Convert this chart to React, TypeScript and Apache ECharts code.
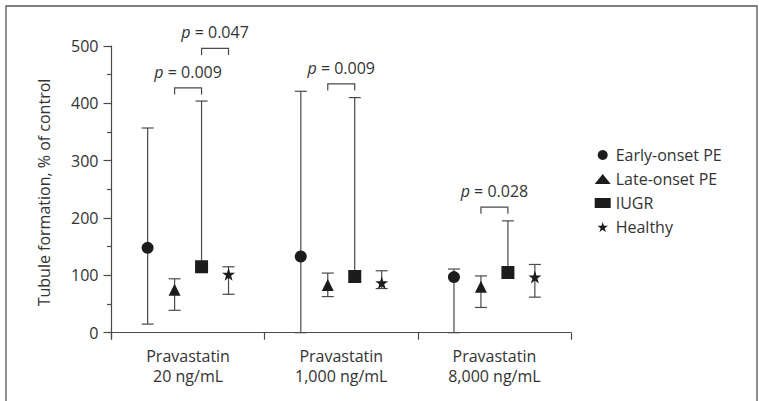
import React, { useEffect, useRef } from "react";
import * as echarts from "echarts";

const categories = ["Pravastatin\n20 ng/mL", "Pravastatin\n1,000 ng/mL", "Pravastatin\n8,000 ng/mL"];
const groupNames = ["Early-onset PE", "Late-onset PE", "IUGR", "Healthy"];

const earlyValues = [148, 133, 97];
const earlyLow = [15, 0, 0];
const earlyHigh = [357, 421, 111];

const lateValues = [75, 83, 80];
const lateLow = [39, 63, 44];
const lateHigh = [94, 104, 99];

const iugrValues = [115, 98, 105];
const iugrLow: (number | null)[] = [null, null, null];
const iugrHigh = [404, 410, 195];

const healthyValues = [102, 87, 97];
const healthyLow = [67, 77, 62];
const healthyHigh = [115, 108, 119];

const majorTicks = [0, 100, 200, 300, 400, 500];
const minorTicks = [50, 150, 250, 350, 450];

// brackets: [categoryIndex, fromGroup, toGroup, yValue]
const brackets = [
  [0, 1, 2, 427],
  [0, 2, 3, 496],
  [1, 1, 2, 434],
  [2, 1, 2, 219],
];
const bracketLabels = ["0.009", "0.047", "0.009", "0.028"];

const STAR = "path://M50,0 L61.2,34.5 L97.6,34.5 L68.2,55.9 L79.4,90.5 L50,69.1 L20.6,90.5 L31.8,55.9 L2.4,34.5 L38.8,34.5 Z";
const FONT = "Open Sans";
const FS = 16;
const TEXT = "#333333";
const LINE = "#4a4a4a";
const MARK = "#1c1c1c";

// offset of each group's marker within a category band (fraction of band width)
const groupFrac = [-0.264, -0.088, 0.088, 0.264];
const BAND = 460 / 3;

export default function App() {
  const ref = useRef<HTMLDivElement>(null);
  useEffect(() => {
    document.body.style.margin = "0";
    const chart = echarts.init(ref.current!, null, { renderer: "svg" });

    const groups = [
      { values: earlyValues, low: earlyLow, high: earlyHigh, symbol: "circle", size: 12 },
      { values: lateValues, low: lateLow, high: lateHigh, symbol: "triangle", size: 12 },
      { values: iugrValues, low: iugrLow, high: iugrHigh, symbol: "rect", size: 13 },
      { values: healthyValues, low: healthyLow, high: healthyHigh, symbol: STAR, size: 13 },
    ];

    const errSeries = groups.map((g, gi) => ({
      type: "custom",
      name: "err" + gi,
      z: 2,
      silent: true,
      data: g.values.map((v, i) => [i, g.low[i] == null ? NaN : g.low[i], g.high[i], v]),
      encode: { x: 0, y: [2, 3] },
      renderItem: (params: any, api: any) => {
        const cat = api.value(0);
        const lo = api.value(1);
        const hi = api.value(2);
        const val = api.value(3);
        const bw = api.size([1, 0])[0];
        const top = api.coord([cat, hi]);
        const bot = api.coord([cat, isNaN(lo) ? val : lo]);
        const x = top[0] + groupFrac[gi] * bw;
        const st = { stroke: LINE, lineWidth: 1.2 };
        const children: any[] = [
          { type: "line", shape: { x1: x, y1: top[1], x2: x, y2: bot[1] }, style: st },
          { type: "line", shape: { x1: x - 6, y1: top[1], x2: x + 6, y2: top[1] }, style: st },
        ];
        if (!isNaN(lo)) {
          children.push({ type: "line", shape: { x1: x - 6, y1: bot[1], x2: x + 6, y2: bot[1] }, style: st });
        }
        return { type: "group", children };
      },
    }));

    const markSeries = groups.map((g, gi) => ({
      type: "scatter",
      name: groupNames[gi],
      z: 5,
      symbol: g.symbol,
      symbolSize: g.size,
      symbolOffset: [groupFrac[gi] * BAND, 0],
      itemStyle: { color: MARK, opacity: 1 },
      data: g.values.map((v, i) => [i, v]),
    }));

    const bracketSeries = {
      type: "custom",
      name: "brackets",
      z: 3,
      silent: true,
      data: brackets.map((b, i) => [...b, i]),
      encode: { x: 0, y: 3 },
      renderItem: (params: any, api: any) => {
        const cat = api.value(0);
        const from = api.value(1);
        const to = api.value(2);
        const yv = api.value(3);
        const idx = api.value(4);
        const bw = api.size([1, 0])[0];
        const p = api.coord([cat, yv]);
        const x1 = p[0] + groupFrac[from] * bw;
        const x2 = p[0] + groupFrac[to] * bw;
        const y = p[1];
        return {
          type: "group",
          children: [
            {
              type: "polyline",
              shape: { points: [[x1, y + 6.7], [x1, y], [x2, y], [x2, y + 6.7]] },
              style: { stroke: LINE, lineWidth: 1.2, fill: "none" },
            },
            {
              type: "text",
              x: (x1 + x2) / 2,
              y: y - 16,
              style: {
                text: "{i|p} = " + bracketLabels[idx],
                fontFamily: FONT,
                fontSize: FS,
                fill: TEXT,
                align: "center",
                verticalAlign: "middle",
                rich: { i: { fontStyle: "italic", fontFamily: FONT, fontSize: FS, fill: TEXT } },
              },
            },
          ],
        };
      },
    };

    chart.setOption({
      animation: false,
      textStyle: { fontFamily: FONT },
      graphic: [
        {
          type: "rect",
          shape: { x: 6, y: 6, width: 751, height: 430 },
          style: { fill: "none", stroke: "#555", lineWidth: 1.3 },
          silent: true,
        },
      ],
      grid: { left: 111.5, top: 46, width: 459.5, height: 293 },
      legend: {
        orient: "vertical",
        left: 594.7,
        top: 146,
        padding: 0,
        itemWidth: 16,
        itemHeight: 10,
        itemGap: 6,
        data: groupNames,
        textStyle: { fontFamily: FONT, fontSize: FS, color: TEXT, lineHeight: 18 },
        selectedMode: false,
      },
      xAxis: {
        type: "category",
        data: categories,
        boundaryGap: true,
        axisLine: { lineStyle: { color: LINE, width: 1.2 } },
        axisTick: { show: true, length: 7, alignWithLabel: false, lineStyle: { color: LINE, width: 1.2 } },
        axisLabel: { fontFamily: FONT, fontSize: FS, color: TEXT, lineHeight: 20, margin: 7 },
        splitLine: { show: false },
      },
      yAxis: [
        {
          type: "value",
          min: -11,
          max: 500,
          position: "left",
          name: "Tubule formation, % of control",
          nameLocation: "middle",
          nameRotate: 90,
          nameGap: 60,
          nameTextStyle: { fontFamily: FONT, fontSize: FS, color: TEXT },
          axisLine: { show: true, lineStyle: { color: LINE, width: 1.2 } },
          axisTick: { show: true, length: 8, customValues: majorTicks, lineStyle: { color: LINE, width: 1.2 } },
          axisLabel: { customValues: majorTicks, fontFamily: FONT, fontSize: FS, color: TEXT, margin: 13 },
          splitLine: { show: false },
        },
        {
          type: "value",
          min: -11,
          max: 500,
          position: "left",
          offset: 0,
          axisLine: { show: false },
          axisTick: { show: true, length: 4.5, customValues: minorTicks, lineStyle: { color: LINE, width: 1.2 } },
          axisLabel: { show: false },
          splitLine: { show: false },
        },
      ],
      series: [...errSeries, bracketSeries, ...markSeries],
    });
    return () => chart.dispose();
  }, []);
  return <div ref={ref} style={{ position: "absolute", left: 0, top: 0, width: 759, height: 401 }} />;
}
